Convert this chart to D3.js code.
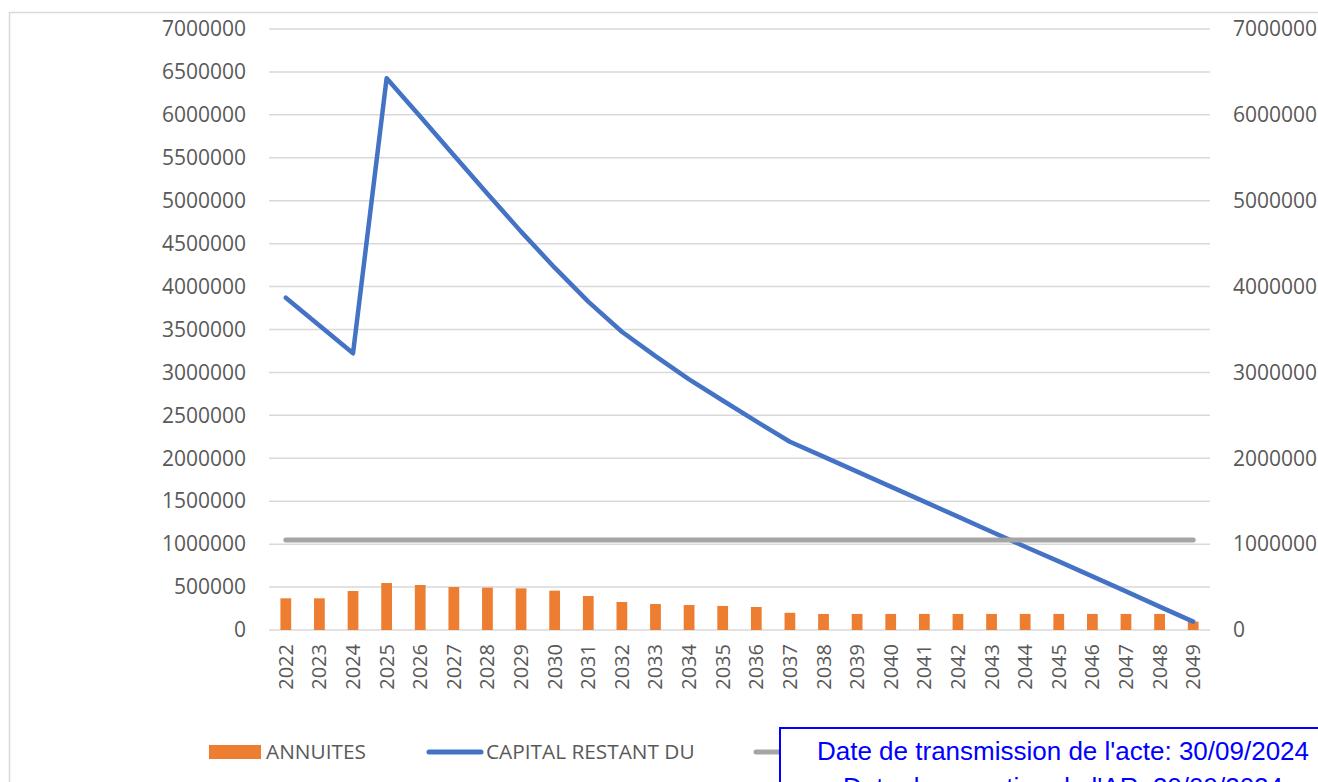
<!DOCTYPE html>
<html>
<head>
<meta charset="utf-8">
<script src="https://cdn.jsdelivr.net/npm/d3@7"></script>
<style>
  html, body { margin: 0; padding: 0; background: #fff; }
  svg { display: block; }
  .lbl { font-family: "Open Sans", sans-serif; fill: #595959; }
</style>
</head>
<body>
<svg id="chart" width="1318" height="782"></svg>
<script>
// annuités / capital restant dû
const years = ['2022','2023','2024','2025','2026','2027','2028','2029','2030','2031','2032','2033','2034','2035',
               '2036','2037','2038','2039','2040','2041','2042','2043','2044','2045','2046','2047','2048','2049'];
const annuites = [369000, 369000, 454000, 547000, 524000, 500000, 493000, 485000, 458000, 396000, 326000, 303000, 291000, 280000,
                  268000, 200000, 187000, 187000, 187000, 187000, 187000, 187000, 187000, 187000, 187000, 187000, 187000, 97000];
const capital  = [3870000, 3546000, 3223000, 6426000, 5980000, 5530000, 5080000, 4640000, 4220000, 3824000, 3474000, 3190000, 2920000, 2673000,
                  2430000, 2193000, 2020000, 1845000, 1670000, 1495000, 1320000, 1145000, 970000, 800000, 625000, 450000, 272000, 97000];
const seuil    = [1048000, 1048000, 1048000, 1048000, 1048000, 1048000, 1048000, 1048000, 1048000, 1048000, 1048000, 1048000, 1048000, 1048000,
                  1048000, 1048000, 1048000, 1048000, 1048000, 1048000, 1048000, 1048000, 1048000, 1048000, 1048000, 1048000, 1048000, 1048000];
const leftTicks  = [0, 500000, 1000000, 1500000, 2000000, 2500000, 3000000, 3500000, 4000000, 4500000, 5000000, 5500000, 6000000, 6500000, 7000000];
const rightTicks = [0, 1000000, 2000000, 3000000, 4000000, 5000000, 6000000, 7000000];
const legendItems = [
    {name: 'ANNUITES', type: 'bar', color: '#ed7d31'},
    {name: 'CAPITAL RESTANT DU', type: 'line', color: '#4472c4'},
    {name: '', type: 'line', color: '#a5a5a5'}
];
const stampLines = ["Date de transmission de l'acte: 30/09/2024", "Date de reception de l'AR: 30/09/2024"];

const svg = d3.select('#chart');
const plot = {left: 269, right: 1210, top: 29, bottom: 630};

// cadre du graphique
svg.append('rect').attr('x', 9.5).attr('y', 12.5).attr('width', 1400).attr('height', 900)
    .attr('fill', '#fff').attr('stroke', '#d9d9d9').attr('stroke-width', 1.5);

const x = d3.scaleBand().domain(years).range([plot.left, plot.right]).paddingInner(0.68).paddingOuter(0.34);
const xc = d => x(d) + x.bandwidth() / 2;
const yL = d3.scaleLinear().domain([0, 7000000]).range([plot.bottom, plot.top]);
const yR = d3.scaleLinear().domain([0, 7000000]).range([plot.bottom, plot.top]);

// grille
svg.append('g').selectAll('line').data(leftTicks).join('line')
    .attr('x1', plot.left).attr('x2', plot.right)
    .attr('y1', d => yL(d)).attr('y2', d => yL(d))
    .attr('stroke', '#d9d9d9').attr('stroke-width', 1.5);

// axe gauche
const gL = svg.append('g').attr('transform', `translate(${plot.left - 23},0)`)
    .call(d3.axisLeft(yL).tickValues(leftTicks).tickSize(0).tickPadding(0).tickFormat(d3.format('d')));
gL.select('.domain').remove();
gL.selectAll('text').attr('class', 'lbl').style('font-size', '21px').attr('font-family', null).attr('fill', null);

// axe droit
const gR = svg.append('g').attr('transform', `translate(${plot.right + 23},0)`)
    .call(d3.axisRight(yR).tickValues(rightTicks).tickSize(0).tickPadding(0).tickFormat(d3.format('d')));
gR.select('.domain').remove();
gR.selectAll('text').attr('class', 'lbl').style('font-size', '21px').attr('font-family', null).attr('fill', null);

// axe des années
svg.append('g').selectAll('text').data(years).join('text')
    .attr('class', 'lbl').style('font-size', '20px')
    .attr('transform', d => `translate(${xc(d)},${plot.bottom + 14}) rotate(-90)`)
    .attr('text-anchor', 'end').attr('dy', '0.35em')
    .text(d => d);

// barres
svg.append('g').selectAll('rect').data(years).join('rect')
    .attr('x', d => x(d)).attr('width', x.bandwidth())
    .attr('y', (d, i) => yL(annuites[i])).attr('height', (d, i) => yL(0) - yL(annuites[i]))
    .attr('fill', '#ed7d31');

// courbes
const line = d3.line().x((d, i) => xc(years[i])).y(d => yR(d));
svg.append('path').datum(capital).attr('d', line).attr('fill', 'none')
    .attr('stroke', '#4472c4').attr('stroke-width', 4.5).attr('stroke-linecap', 'round').attr('stroke-linejoin', 'round');
svg.append('path').datum(seuil).attr('d', line).attr('fill', 'none')
    .attr('stroke', '#a5a5a5').attr('stroke-width', 5).attr('stroke-linecap', 'round');

// légende
const legX = [209, 429, 756];
const lg = svg.append('g').selectAll('g').data(legendItems).join('g')
    .attr('transform', (d, i) => `translate(${legX[i]},752)`);
lg.filter(d => d.type === 'bar').append('rect')
    .attr('x', 0).attr('y', -7).attr('width', 52).attr('height', 14).attr('fill', d => d.color);
lg.filter(d => d.type === 'line').append('line')
    .attr('x1', 0).attr('x2', 52).attr('y1', 0).attr('y2', 0)
    .attr('stroke', d => d.color).attr('stroke-width', 5).attr('stroke-linecap', 'round');
lg.append('text').attr('class', 'lbl').style('font-size', '20.8px')
    .attr('x', 57).attr('dy', '0.35em').text(d => d.name);

// tampon de transmission
const stamp = svg.append('g');
stamp.append('rect').attr('x', 780).attr('y', 728).attr('width', 570).attr('height', 100)
    .attr('fill', '#fff').attr('stroke', '#0000ff').attr('stroke-width', 2);
stamp.selectAll('text').data(stampLines).join('text')
    .attr('x', 1063).attr('y', (d, i) => 760 + i * 36)
    .attr('text-anchor', 'middle')
    .style('font-family', '"Liberation Sans", Arial, sans-serif').style('font-size', '26px')
    .attr('fill', '#0000ff').text(d => d);
</script>
</body>
</html>
